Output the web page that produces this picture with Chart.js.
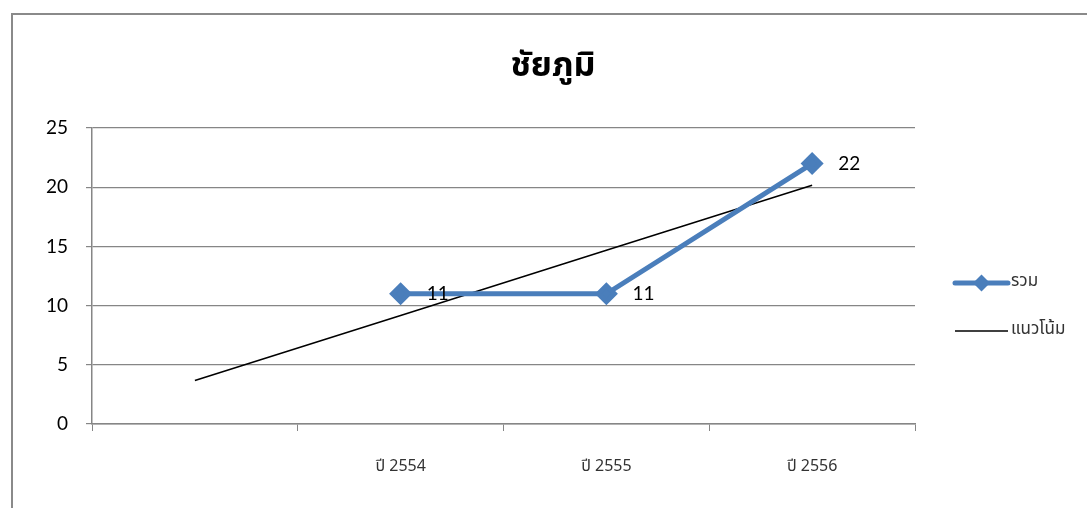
<!DOCTYPE html>
<html lang="th">
<head>
  <meta charset="UTF-8" />
  <title>ชัยภูมิ</title>
  <style>
    *{box-sizing:border-box;margin:0;padding:0;}
    body{background:#fff;width:1087px;height:508px;overflow:hidden;position:relative;}
    #frame{position:absolute;left:11px;top:13px;right:-10px;bottom:-10px;border-left:2px solid #8a8a8a;border-top:2px solid #8a8a8a;}
    #wrap{position:absolute;left:0;top:0;width:1087px;height:508px;}
  </style>
</head>
<body>
  <div id="frame"></div>
  <div id="wrap"><canvas id="chart"></canvas></div>

  <script src="https://cdn.jsdelivr.net/npm/chart.js@4.4.1/dist/chart.umd.min.js"></script>
  <script>
  /* -------- ข้อมูล -------- */
  const chartTitle='ชัยภูมิ';
  const categories=['','ปี 2554','ปี 2555','ปี 2556'];
  const totalValues=[null,11,11,22];          // รวม
  const trendValues=[3.67,9.17,14.67,20.17];  // แนวโน้ม (เส้นตรง)
  const yTicks=[0,5,10,15,20,25];

  const blue='#4A7EBB';
  const thaiFont='"Noto Sans Thai","Noto Sans","DejaVu Sans",sans-serif';
  const numFont='Lato,"Open Sans",sans-serif';

  /* หัวเรื่อง ป้ายค่า และคำอธิบายแผนภูมิ */
  const extras={
    id:'extras',
    afterDatasetsDraw(chart){
      const ctx=chart.ctx;
      const meta=chart.getDatasetMeta(0);
      ctx.save();

      // title (Excel จัดกึ่งกลางของพื้นที่แผนภูมิทั้งหมด)
      ctx.fillStyle='#000';
      ctx.font='bold 34px '+thaiFont;
      ctx.textAlign='center';
      ctx.textBaseline='middle';
      ctx.fillText(chartTitle,553,69);

      // data labels
      ctx.font='19px '+numFont;
      ctx.textAlign='left';
      meta.data.forEach((pt,i)=>{
        if(totalValues[i]==null) return;
        ctx.fillText(String(totalValues[i]),pt.x+26,pt.y);
      });

      // legend
      const x0=chart.chartArea.right+40, x1=x0+53;
      const rows=[283,331];
      ctx.lineCap='round';
      ctx.strokeStyle=blue; ctx.lineWidth=5;
      ctx.beginPath(); ctx.moveTo(x0,rows[0]); ctx.lineTo(x1,rows[0]); ctx.stroke();
      ctx.fillStyle=blue;
      const cx=(x0+x1)/2, r=8.5;
      ctx.beginPath(); ctx.moveTo(cx,rows[0]-r); ctx.lineTo(cx+r,rows[0]); ctx.lineTo(cx,rows[0]+r); ctx.lineTo(cx-r,rows[0]); ctx.closePath(); ctx.fill();
      ctx.lineCap='butt';
      ctx.strokeStyle='#000'; ctx.lineWidth=1.5;
      ctx.beginPath(); ctx.moveTo(x0,rows[1]); ctx.lineTo(x1,rows[1]); ctx.stroke();
      ctx.fillStyle='#333';
      ctx.font='17px '+thaiFont;
      ctx.fillText(chart.data.datasets[0].label,x1+3,rows[0]);
      ctx.fillText(chart.data.datasets[1].label,x1+3,rows[1]);
      ctx.restore();
    }
  };

  new Chart(document.getElementById('chart'),{
    type:'line',
    data:{
      labels:categories,
      datasets:[
        {label:'รวม',data:totalValues,borderColor:blue,backgroundColor:blue,borderWidth:5,
         pointStyle:'rectRot',pointRadius:8,pointHoverRadius:8,pointBackgroundColor:blue,pointBorderColor:blue,
         spanGaps:false,tension:0,order:1},
        {label:'แนวโน้ม',data:trendValues,borderColor:'#000',borderWidth:1.5,pointRadius:0,tension:0,order:2}
      ]
    },
    plugins:[extras],
    options:{
      responsive:true,maintainAspectRatio:false,animation:false,
      layout:{padding:{left:0,right:172,top:128,bottom:0}},
      plugins:{
        legend:{display:false},
        tooltip:{enabled:false},
        title:{display:false}
      },
      scales:{
        x:{
          offset:true,
          grid:{drawOnChartArea:false,drawTicks:true,tickLength:7,offset:true,color:'#868686'},
          border:{color:'#868686',width:1.5},
          ticks:{color:'#333',font:{family:thaiFont,size:16},padding:27,maxRotation:0},
          afterFit(s){s.height=84;}
        },
        y:{
          min:0,max:25,
          afterBuildTicks(s){s.ticks=yTicks.map(v=>({value:v}));},
          grid:{color:'#868686',lineWidth:1.2,tickLength:6},
          border:{color:'#868686',width:1.5},
          ticks:{color:'#000',font:{family:numFont,size:19},padding:18},
          afterFit(s){s.width=92;}
        }
      }
    }
  });
  </script>
</body>
</html>
